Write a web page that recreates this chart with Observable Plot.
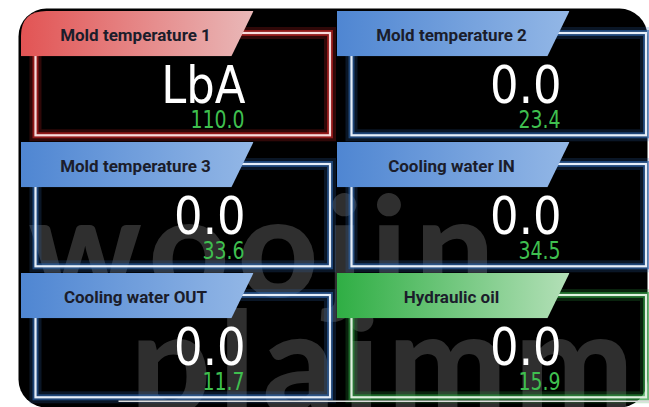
<!DOCTYPE html>
<html><head><meta charset="utf-8">
<script src="https://cdn.jsdelivr.net/npm/d3@7"></script>
<script src="https://cdn.jsdelivr.net/npm/@observablehq/plot@0.6"></script>
<style>
html,body{margin:0;padding:0;background:#fff;overflow:hidden;}
#chart svg{display:block;overflow:hidden;}
</style></head><body><div id="chart"></div>
<script>
// ---- data ----
const titles = ["Mold temperature 1", "Mold temperature 2", "Mold temperature 3", "Cooling water IN", "Cooling water OUT", "Hydraulic oil"];
const mainValues = ["LbA", "0.0", "0.0", "0.0", "0.0", "0.0"];
const subValues = ["110.0", "23.4", "33.6", "34.5", "11.7", "15.9"];
const states = ["alarm", "normal", "normal", "normal", "normal", "oil"];
const watermarkTop = ["woojin"];
const watermarkBottom = ["plaimm"];

// grid position derived from the order of panels (2 columns x 3 rows)
const panels = titles.map((title, i) => ({
  title, main: mainValues[i], sub: subValues[i], state: states[i],
  col: i % 2, row: Math.floor(i / 2)
}));

// ---- styles ----
const kinds = ["alarm", "normal", "oil"];
const glowColor = {alarm: "#d42525", normal: "#2c66ad", oil: "#2a9a3c"};
const borderColor = {alarm: "#f7dcdc", normal: "#e6eef8", oil: "#dff0df"};
const XY = {x: "col", y: "row"};
const boxInsets = {insetLeft: 17.5, insetRight: 4, insetTop: 23, insetBottom: 5.7};
const tabInsets = {insetLeft: 3, insetRight: 80.5, insetTop: 1, insetBottom: 84.7};
const digitFont = "'Liberation Sans Narrow', 'DejaVu Sans Condensed', 'DejaVu Sans', sans-serif";

const chart = Plot.plot({
  width: 649,
  height: 407,
  margin: 0,
  style: {background: "transparent"},
  x: {type: "band", domain: [0, 1], range: [17, 650], padding: 0, axis: null},
  y: {type: "band", domain: [0, 1, 2], range: [9, 404], padding: 0, axis: null},
  marks: [
    Plot.frame({fill: "#000", rx: 28, insetLeft: 18, insetTop: 8, insetRight: 2}),
    Plot.text(watermarkTop, {frameAnchor: "top-left", text: d => d, dx: 28, dy: 197, fontSize: 140, fontWeight: 900, fontFamily: "Lato", fill: "#9a9a9a", fillOpacity: 0.3}),
    Plot.text(watermarkBottom, {frameAnchor: "top-left", text: d => d, dx: 130, dy: 312, fontSize: 141, fontWeight: 900, fontFamily: "Lato", fill: "#9a9a9a", fillOpacity: 0.3}),
    ...kinds.flatMap(k => {
      const data = panels.filter(d => d.state === k);
      return [
        Plot.cell(data, {...XY, ...boxInsets, fill: "none", stroke: glowColor[k], strokeWidth: 12, strokeOpacity: 0.22}),
        Plot.cell(data, {...XY, ...boxInsets, fill: "none", stroke: glowColor[k], strokeWidth: 6, strokeOpacity: 0.6}),
        Plot.cell(data, {...XY, ...boxInsets, fill: "none", stroke: borderColor[k], strokeWidth: 2.2})
      ];
    }),
    ...kinds.map(k => Plot.cell(panels.filter(d => d.state === k), {
      ...XY, ...tabInsets, fill: `url(#tab-${k})`
    })),
    Plot.frame({fill: "#dcdcdc", insetLeft: 118, insetTop: 400, insetBottom: 5.5}),
    Plot.text(panels, {...XY, text: "title", dx: -41, dy: -40, fill: "#1b1d2b", fontSize: 17, fontWeight: 700, fontFamily: "Roboto"}),
    Plot.text(panels, {...XY, text: "main", textAnchor: "end", dx: 69, dy: 10, fill: "#fff", fontSize: 52, fontFamily: digitFont}),
    Plot.text(panels, {...XY, text: "sub", textAnchor: "end", dx: 68, dy: 44, fill: "#3fbf4f", fontSize: 25, fontFamily: digitFont})
  ]
});

const svg = d3.select(chart);
svg.insert("defs", ":first-child").html(`
  <linearGradient id="tab-alarm" x1="0" x2="1" y1="0" y2="0">
    <stop offset="0" stop-color="#e25454"/><stop offset="1" stop-color="#e9b8b8"/></linearGradient>
  <linearGradient id="tab-normal" x1="0" x2="1" y1="0" y2="0">
    <stop offset="0" stop-color="#4f86d2"/><stop offset="1" stop-color="#93b7e6"/></linearGradient>
  <linearGradient id="tab-oil" x1="0" x2="1" y1="0" y2="0">
    <stop offset="0" stop-color="#2fae44"/><stop offset="1" stop-color="#b4e0b8"/></linearGradient>
  <clipPath id="tab-clip" clipPathUnits="objectBoundingBox"><path d="M0,0H1L0.905,1H0Z"/></clipPath>
  <clipPath id="tab-clip-corner" clipPathUnits="objectBoundingBox"><path d="M0,0.55Q0,0 0.11,0H1L0.905,1H0Z"/></clipPath>
`);
svg.selectAll('g[fill^="url(#tab-"] rect').attr("clip-path", "url(#tab-clip)");
svg.selectAll('g[fill="url(#tab-alarm)"] rect').attr("clip-path", "url(#tab-clip-corner)");
svg.selectAll('g[font-size="140"] text, g[font-size="141"] text').style("letter-spacing", "8px");
document.getElementById("chart").append(chart);
// narrow the seven-segment style readouts
svg.selectAll('g[font-size="52"] text').each(function() {
  const w = this.getComputedTextLength();
  this.setAttribute("textLength", (w * 0.96).toFixed(1));
  this.setAttribute("lengthAdjust", "spacingAndGlyphs");
});
svg.selectAll('g[font-size="25"] text').each(function() {
  const w = this.getComputedTextLength();
  this.setAttribute("textLength", (w * 0.84).toFixed(1));
  this.setAttribute("lengthAdjust", "spacingAndGlyphs");
});
</script></body></html>
